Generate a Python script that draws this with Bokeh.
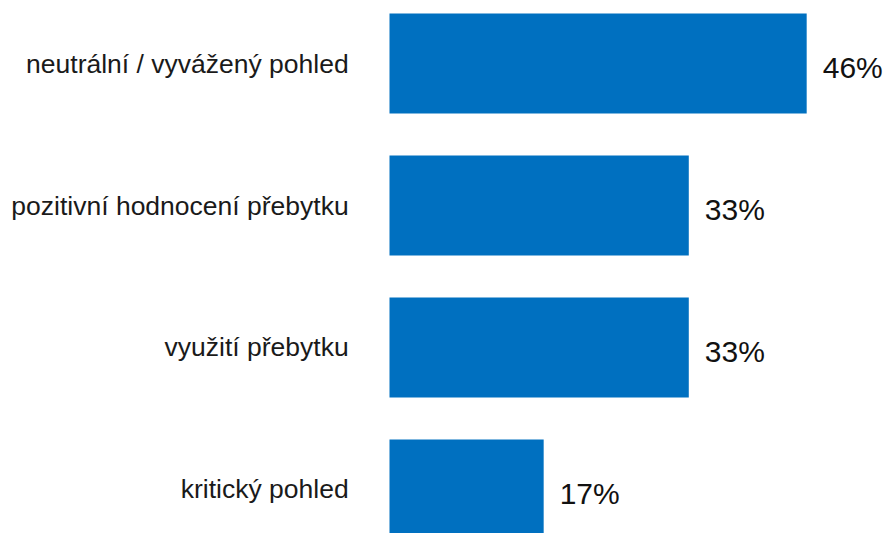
from bokeh.plotting import figure
from bokeh.models import Range1d, ColumnDataSource
from bokeh.core.properties import value
from bokeh.embed import file_html
from bokeh.resources import INLINE

categories = ["neutrální / vyvážený pohled", "pozitivní hodnocení přebytku", "využití přebytku", "kritický pohled"]
values = [46, 33, 33, 17]
positions = [0, 1, 2, 3]
value_labels = [f"{v}%" for v in values]

src = ColumnDataSource(dict(y=positions, v=values, cat=categories, lab=value_labels,
                            zero=[0] * len(values), labx=[-4.5] * len(values)))

p = figure(width=887, height=533, output_backend="svg", toolbar_location=None,
           x_range=Range1d(-42.89, 54.91), y_range=Range1d(3.3099, -0.4437),
           min_border=0, min_border_left=0, min_border_right=0, min_border_top=0, min_border_bottom=0)
p.axis.visible = False
p.grid.visible = False
p.outline_line_color = None
p.background_fill_color = "white"
p.border_fill_color = "white"

p.hbar(y="y", left="zero", right="v", height=0.704, source=src, fill_color="#0070C0", line_color=None)
p.text(x="labx", y="y", text="cat", source=src, text_align="right", text_baseline="middle",
       text_font=value("Liberation Sans"), text_font_size="26.5px", text_color="#1a1a1a", y_offset=0)
p.text(x="v", y="y", text="lab", source=src, text_align="left", text_baseline="middle",
       text_font=value("Liberation Sans"), text_font_size="30px", text_color="#111111",
       x_offset=16, y_offset=4)

open("out.html", "w").write(file_html(p, INLINE))
